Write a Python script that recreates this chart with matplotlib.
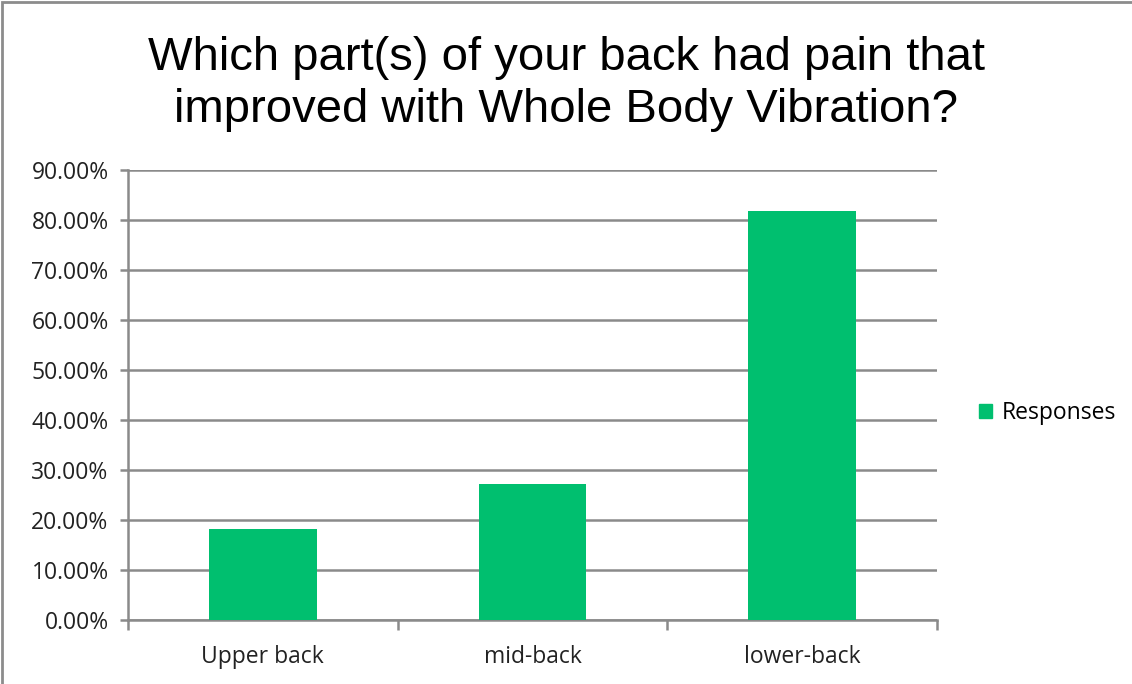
import matplotlib.pyplot as plt
from matplotlib.patches import Rectangle, Patch
from matplotlib.ticker import PercentFormatter

categories = ['Upper back', 'mid-back', 'lower-back']
responses = [18.18, 27.27, 81.82]
yticks = [0, 10, 20, 30, 40, 50, 60, 70, 80, 90]

W, H = 1132, 684
fig = plt.figure(figsize=(W / 100, H / 100), dpi=100)
# grey outer frame (only top and left edges show in the reference)
fig.patches.append(Rectangle((0.002, -0.01), 1.5, 1.007, transform=fig.transFigure,
                             fill=False, edgecolor='#8c8c8c', linewidth=2))

ax = fig.add_axes([128 / W, 1 - 620 / H, (937 - 128) / W, (620 - 170) / H])

grey = '#8a8a8a'
x = range(len(categories))
ax.bar(x, responses, width=0.4, color='#00bf6f', zorder=3)

ax.set_xlim(-0.5, len(categories) - 0.5)
ax.set_ylim(0, 90)
ax.set_yticks(yticks)
ax.yaxis.set_major_formatter(PercentFormatter(decimals=2))
ax.grid(axis='y', color=grey, linewidth=1.8, zorder=0)

ax.set_xticks(list(x))
ax.set_xticklabels(categories)
ax.set_xticks([i - 0.5 for i in range(len(categories) + 1)], minor=True)
ax.tick_params(axis='x', which='major', length=0, pad=18)
ax.tick_params(axis='x', which='minor', length=7, width=1.8, color=grey, direction='out')
ax.tick_params(axis='y', length=6, width=1.8, color=grey, pad=8)
for lab in ax.get_xticklabels() + ax.get_yticklabels():
    lab.set_fontfamily('Open Sans')
    lab.set_fontsize(16.5)
    lab.set_color('#222222')

for s in ['top', 'right']:
    ax.spines[s].set_visible(False)
for s in ['left', 'bottom']:
    ax.spines[s].set_color(grey)
    ax.spines[s].set_linewidth(1.8)

fig.text(0.5, 1 - 84 / H, 'Which part(s) of your back had pain that\nimproved with Whole Body Vibration?',
         ha='center', va='center', fontsize=34, family='Liberation Sans', linespacing=1.25)

fig.legend(handles=[Patch(color='#00bf6f', label='Responses')], loc='center left',
           bbox_to_anchor=(958 / W, 1 - 413 / H), frameon=False, handlelength=0.6, handleheight=0.6,
           handletextpad=0.4, prop={'family': 'Open Sans', 'size': 16.5})

fig.savefig('out.png', dpi=100)
